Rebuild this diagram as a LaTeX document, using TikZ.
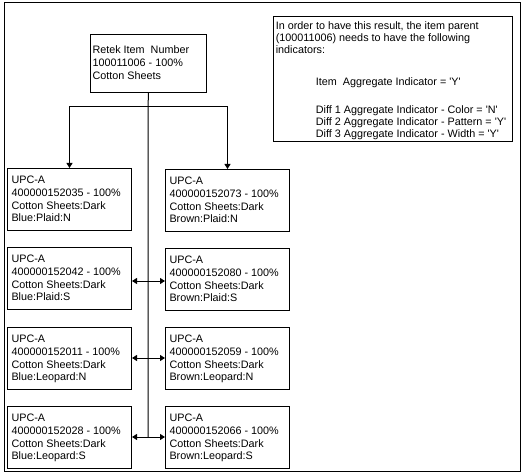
\documentclass[tikz,border=0pt]{standalone}
\usepackage{fontspec}
\newfontfamily\arialf{Liberation Sans}
\usetikzlibrary{arrows.meta}
\newcommand\bxt[5]{\parbox[c][#2][t]{#1}{\arialf\fontsize{10.8bp}{12.7bp}\selectfont\raggedright\leftskip=#4\relax\vspace*{#3}\rule{0pt}{8bp}#5}}
\newcommand\upctxt[2]{\bxt{124bp}{61.5bp}{7.3bp}{4bp}{UPC-A\\#1 - 100\%\\Cotton Sheets:Dark\\#2}}
\tikzset{
  box/.style={draw, line width=1bp, inner sep=0pt, anchor=north west},
  ln/.style={line width=1bp},
  arr/.style={line width=1bp, -{Triangle[length=5bp,width=6bp]}},
  darr/.style={line width=1bp, {Triangle[length=5bp,width=6bp]}-{Triangle[length=5bp,width=6bp]}}
}
\begin{document}
\begin{tikzpicture}[x=1bp,y=-1bp]
\useasboundingbox (0,0) rectangle (525,475);
\draw[ln] (4,3) rectangle (520,471);
\node[box] (p) at (90,34) {\bxt{116bp}{58bp}{11.3bp}{2bp}{Retek Item~~Number\\100011006 - 100\%\\Cotton Sheets}};
\node[box] (n) at (273,16) {\bxt{239bp}{125bp}{5.3bp}{2.3bp}{\setlength\baselineskip{12bp}In order to have this result, the item parent\\
(100011006) needs to have the following\\
indicators:\\[19.9bp]
\hspace*{40bp}Item~~Aggregate Indicator = 'Y'\\[15.6bp]
\hspace*{40bp}Diff 1 Aggregate Indicator - Color = 'N'\\
\hspace*{40bp}Diff 2 Aggregate Indicator - Pattern = 'Y'\\
\hspace*{40bp}Diff 3 Aggregate Indicator - Width = 'Y'}};
\node[box] (l1) at (7,168) {\upctxt{400000152035}{Blue:Plaid:N}};
\node[box] (r1) at (165,169) {\upctxt{400000152073}{Brown:Plaid:N}};
\node[box] (l2) at (7,247) {\upctxt{400000152042}{Blue:Plaid:S}};
\node[box] (r2) at (165,248) {\upctxt{400000152080}{Brown:Plaid:S}};
\node[box] (l3) at (7,327) {\upctxt{400000152011}{Blue:Leopard:N}};
\node[box] (r3) at (165,327) {\upctxt{400000152059}{Brown:Leopard:N}};
\node[box] (l4) at (7,406) {\upctxt{400000152028}{Blue:Leopard:S}};
\node[box] (r4) at (165,406) {\upctxt{400000152066}{Brown:Leopard:S}};
\coordinate (j) at (148,107);
\coordinate (a2) at (148,281);
\coordinate (a3) at (148,358);
\coordinate (a4) at (148,437);
\draw[ln] (p.south) -- (j) -- (a4);
\draw[arr] (j) -| (l1.north);
\draw[arr] (j) -| (r1.north);
\draw[darr] (l2.east |- a2) -- (r2.west |- a2);
\draw[darr] (l3.east |- a3) -- (r3.west |- a3);
\draw[darr] (l4.east |- a4) -- (r4.west |- a4);
\end{tikzpicture}
\end{document}
